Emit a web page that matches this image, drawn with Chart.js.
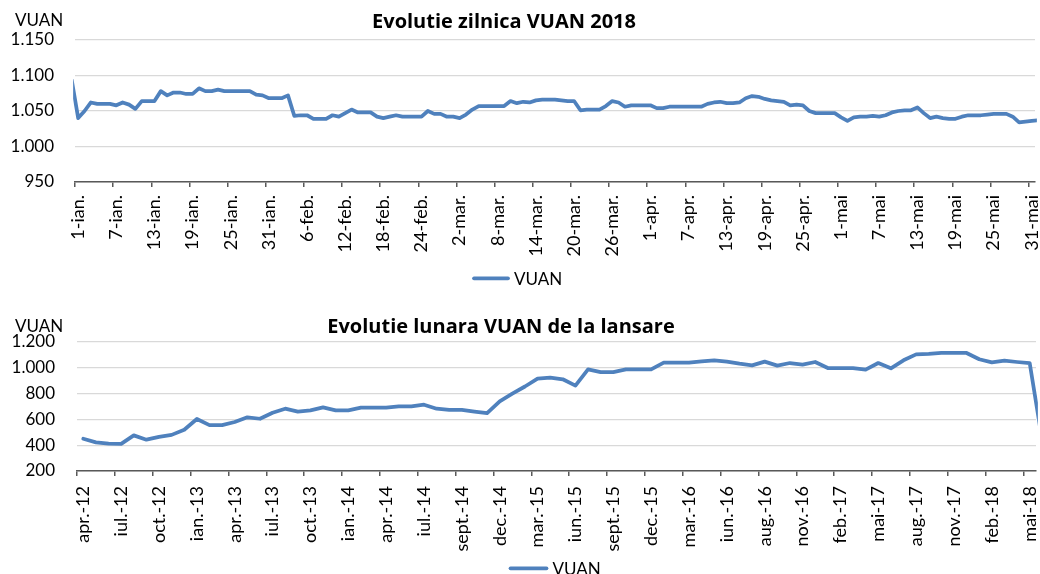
<!DOCTYPE html>
<html>
<head>
<meta charset="utf-8">
<script src="https://cdn.jsdelivr.net/npm/chart.js@4.4.1/dist/chart.umd.min.js"></script>
<style>
html,body{margin:0;padding:0;background:#fff;}
#wrap{position:relative;width:1040px;height:574px;overflow:hidden;background:#fff;}
#c1{position:absolute;left:0;top:0;width:1040px;height:290px;}
#c2{position:absolute;left:0;top:290px;width:1040px;height:284px;}
</style>
</head>
<body>
<div id="wrap">
<canvas id="c1" width="1040" height="290"></canvas>
<canvas id="c2" width="1040" height="284"></canvas>
</div>
<script>
// ---------- DATA ----------
const monthNames = ['ian.','feb.','mar.','apr.','mai','iun.','iul.','aug.','sept.','oct.','nov.','dec.'];
const daysInMonth2018 = [31,28,31,30,31]; // ian. - mai 2018
// 31-dec. and 1-iun. sit just outside the visible range (line runs off both edges)
const dailyLabels = ['31-dec.'];
daysInMonth2018.forEach((n, m) => { for (let d = 1; d <= n; d++) dailyLabels.push(d + '-' + monthNames[m]); });
dailyLabels.push('1-iun.');
const dailyFirstShown = 1;    // 1-ian.
const dailyLastShown = 151;   // 31-mai

const dailyValues = [
 1093,
 1040,1050,1062,1060,1060,1060,1058,1062,1059,1053,
 1064,1064,1064,1078,1072,1076,1076,1074,1074,1082,
 1078,1078,1080,1078,1078,1078,1078,1078,1073,1072,
 1068,1068,1068,1072,1043,1044,1044,1039,1039,1039,
 1044,1042,1047,1052,1048,1048,1048,1042,1040,1042,
 1044,1042,1042,1042,1042,1050,1046,1046,1042,1042,
 1040,1045,1052,1057,1057,1057,1057,1057,1064,1061,
 1063,1062,1065,1066,1066,1066,1065,1064,1064,1051,
 1052,1052,1052,1057,1064,1062,1056,1058,1058,1058,
 1058,1054,1054,1056,1056,1056,1056,1056,1056,1060,
 1062,1063,1061,1061,1062,1068,1071,1070,1067,1065,
 1064,1063,1058,1059,1058,1050,1047,1047,1047,1047,
 1041,1036,1041,1042,1042,1043,1042,1044,1048,1050,
 1051,1051,1055,1047,1040,1042,1040,1039,1039,1042,
 1044,1044,1044,1045,1046,1046,1046,1042,1034,1035,
 1036,
 1037
];

const monthlyLabels = [
 'apr.-12','mai-12','iun.-12','iul.-12','aug.-12','sept.-12','oct.-12','nov.-12','dec.-12',
 'ian.-13','feb.-13','mar.-13','apr.-13','mai-13','iun.-13','iul.-13','aug.-13','sept.-13','oct.-13','nov.-13','dec.-13',
 'ian.-14','feb.-14','mar.-14','apr.-14','mai-14','iun.-14','iul.-14','iul.-14','aug.-14','sept.-14','oct.-14','nov.-14','dec.-14',
 'ian.-15','feb.-15','mar.-15','apr.-15','mai-15','iun.-15','iul.-15','aug.-15','sept.-15','oct.-15','nov.-15','dec.-15',
 'ian.-16','feb.-16','mar.-16','apr.-16','mai-16','iun.-16','iul.-16','iul.-16','aug.-16','sept.-16','oct.-16','nov.-16','dec.-16',
 'ian.-17','feb.-17','mar.-17','apr.-17','mai-17','iun.-17','iul.-17','aug.-17','sept.-17','oct.-17','nov.-17','dec.-17',
 'ian.-18','feb.-18','mar.-18','apr.-18','mai-18','iun.-18'
];
const monthlyValues = [
 450,422,412,410,476,443,465,480,520,603,
 556,556,580,616,605,652,683,660,670,693,
 670,670,691,691,691,701,701,714,683,673,
 673,660,648,740,800,855,916,924,911,862,
 988,967,967,988,988,988,1040,1040,1040,1050,
 1058,1048,1032,1019,1048,1017,1037,1025,1045,998,
 998,998,986,1037,996,1058,1104,1108,1115,1115,
 1115,1066,1042,1055,1045,1037,430
];
const monthlyFirstShown = 0;   // apr.-12
const monthlyLastShown = 75;   // mai-18 (iun.-18 runs off the right edge)

const dailyTicks = [950,1150,25];   // min, max, step
const monthlyTicks = [200,1200,200];

// ---------- STYLE ----------
const FONT = 'Lato, "Open Sans", "DejaVu Sans", sans-serif';
const TITLE_FONT = '"Open Sans", Lato, sans-serif';
const BLUE = '#4f81bd';
const GRID = '#d9d9d9';
const AXIS = '#595959';
const TRANSPARENT = 'rgba(0,0,0,0)';

function fmt(v) {
  v = Math.round(v);
  const s = String(v);
  return v >= 1000 ? s.slice(0, -3) + '.' + s.slice(-3) : s;
}

const textPlugin = {
  id: 'chartText',
  afterDraw(chart, args, o) {
    const ctx = chart.ctx;
    ctx.save();
    ctx.fillStyle = '#000';
    ctx.textBaseline = 'alphabetic';
    ctx.font = 'bold ' + o.titleSize + 'px ' + TITLE_FONT;
    ctx.textAlign = 'center';
    ctx.fillText(o.title, o.titleX, o.titleY);
    ctx.font = o.unitSize + 'px ' + FONT;
    ctx.textAlign = 'left';
    ctx.fillText(o.unit, o.unitX, o.unitY);
    const ds = chart.data.datasets[0];
    ctx.strokeStyle = ds.borderColor;
    ctx.lineWidth = ds.borderWidth;
    ctx.lineCap = 'round';
    ctx.beginPath();
    ctx.moveTo(o.legX + 2, o.legY);
    ctx.lineTo(o.legX + o.legW - 2, o.legY);
    ctx.stroke();
    ctx.font = o.legSize + 'px ' + FONT;
    ctx.fillText(ds.label, o.legX + o.legW + 4, o.legY + 6.7);
    ctx.restore();
  }
};

function buildChart(canvas, labels, values, yTicks, opt) {
  return new Chart(canvas, {
    type: 'line',
    data: {
      labels: labels,
      datasets: [{
        label: 'VUAN',
        data: values,
        borderColor: BLUE,
        backgroundColor: BLUE,
        borderWidth: 3.75,
        pointRadius: 0,
        pointHoverRadius: 0,
        tension: 0,
        fill: false,
        borderJoinStyle: 'round',
        borderCapStyle: 'round'
      }]
    },
    options: {
      responsive: false,
      animation: false,
      events: [],
      layout: { padding: { top: opt.padTop, right: opt.padRight, bottom: 0, left: 0 } },
      plugins: {
        legend: { display: false },
        title: { display: false },
        tooltip: { enabled: false },
        chartText: opt.text
      },
      scales: {
        x: {
          type: 'category',
          offset: true,
          afterDataLimits: s => { s.min = opt.xMin; s.max = opt.xMax; },
          grid: {
            offset: true,
            drawOnChartArea: false,
            drawTicks: true,
            tickLength: 5,
            lineWidth: 1.5,
            color: c => (c.index !== undefined && c.index % opt.every === 0) ? AXIS : TRANSPARENT
          },
          border: { display: true, color: AXIS, width: 1.5 },
          ticks: {
            autoSkip: false,
            minRotation: 90,
            maxRotation: 90,
            padding: opt.xPad,
            color: '#000',
            font: { family: FONT, size: 18 },
            callback: (v, i) => (i % opt.every === 0) ? labels[v] : ''
          },
          afterFit: s => { s.height = opt.xHeight; s.paddingLeft = 0; s.paddingRight = 0; }
        },
        y: {
          min: yTicks[0],
          max: yTicks[1],
          grid: { color: GRID, lineWidth: 1.3, drawTicks: false },
          border: { display: false },
          ticks: {
            stepSize: yTicks[2],
            padding: opt.yPad,
            color: '#000',
            font: { family: FONT, size: 17 },
            callback: v => fmt(v)
          },
          afterFit: s => { s.width = opt.yWidth; s.paddingTop = 0; s.paddingBottom = 0; }
        }
      }
    },
    plugins: [textPlugin]
  });
}

const charts = [];
charts.push(buildChart(document.getElementById('c1'), dailyLabels, dailyValues, dailyTicks, {
  padTop: 40, padRight: 5, xHeight: 108, yWidth: 75, yPad: 21, xPad: 8, every: 6,
  xMin: dailyFirstShown, xMax: dailyLastShown,
  text: { title: 'Evolutie zilnica VUAN 2018', titleSize: 20, titleX: 504, titleY: 28,
          unit: 'VUAN', unitSize: 17, unitX: 15, unitY: 26,
          legX: 472, legY: 278.3, legW: 38, legSize: 17 }
}));
charts.push(buildChart(document.getElementById('c2'), monthlyLabels, monthlyValues, monthlyTicks, {
  padTop: 52, padRight: 4, xHeight: 103, yWidth: 77, yPad: 22, xPad: 10, every: 3,
  xMin: monthlyFirstShown, xMax: monthlyLastShown,
  text: { title: 'Evolutie lunara VUAN de la lansare', titleSize: 20, titleX: 501, titleY: 43.3,
          unit: 'VUAN', unitSize: 17, unitX: 15, unitY: 41.7,
          legX: 508.5, legY: 278.3, legW: 40, legSize: 17 }
}));

if (document.fonts && document.fonts.ready) {
  document.fonts.ready.then(() => charts.forEach(c => c.update()));
}
</script>
</body>
</html>
